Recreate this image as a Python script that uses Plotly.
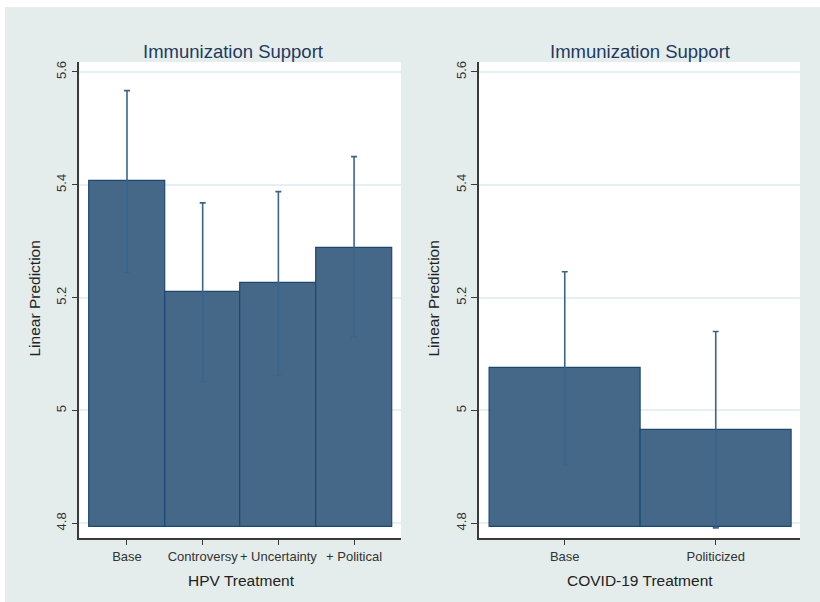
import plotly.graph_objects as go

# ---- data ----
hpv_categories = ["Base", "Controversy", "+ Uncertainty", "+ Political"]
hpv_means = [5.406, 5.210, 5.226, 5.288]
hpv_ci_hi = [5.567, 5.368, 5.388, 5.450]
hpv_ci_lo = [5.245, 5.051, 5.062, 5.130]

covid_categories = ["Base", "Politicized"]
covid_means = [5.075, 4.965]
covid_ci_hi = [5.246, 5.140]
covid_ci_lo = [4.904, 4.792]

y_tickvals = [4.8, 5.0, 5.2, 5.4, 5.6]
y_ticktext = ["4.8", "5", "5.2", "5.4", "5.6"]

bar_base = 4.794

W, H = 820, 602
FONT = "Liberation Sans, Arial, sans-serif"
BAR_FILL = "#466888"
BAR_LINE = "#1c4870"
ERR_COLOR = "#3a648a"
BG = "#e4edec"


def px(xs):
    return xs / W


def py(ys):
    return (H - ys) / H


fig = go.Figure()


def add_panel(cats, means, hi, lo, xa, ya):
    fig.add_trace(go.Bar(
        x=cats, y=[m - bar_base for m in means], base=bar_base, width=1.0,
        marker=dict(color=BAR_FILL, line=dict(color=BAR_LINE, width=1.2)),
        xaxis=xa, yaxis=ya, showlegend=False, hoverinfo="skip"))
    fig.add_trace(go.Scatter(
        x=cats, y=means, mode="markers",
        marker=dict(size=1, color="rgba(0,0,0,0)"),
        error_y=dict(type="data", symmetric=False,
                     array=[h - m for h, m in zip(hi, means)],
                     arrayminus=[m - l for m, l in zip(means, lo)],
                     color=ERR_COLOR, thickness=1.6, width=3),
        xaxis=xa, yaxis=ya, showlegend=False, hoverinfo="skip"))


add_panel(hpv_categories, hpv_means, hpv_ci_hi, hpv_ci_lo, "x", "y")
add_panel(covid_categories, covid_means, covid_ci_hi, covid_ci_lo, "x2", "y2")

ydom = [py(537.7), py(62)]
yrange = [4.7745, 5.6177]

common_x = dict(showline=True, linecolor="#3a3a3a", linewidth=1.5,
                ticks="outside", ticklen=6, tickcolor="#3a3a3a", tickwidth=1.2,
                showgrid=False, zeroline=False, mirror=False, tickangle=0,
                tickfont=dict(family=FONT, size=13, color="#333333"))
common_y = dict(showline=True, linecolor="#3a3a3a", linewidth=1.5,
                ticks="outside", ticklen=6, tickcolor="#3a3a3a", tickwidth=1.2,
                showgrid=True, gridcolor="#e6eff1", gridwidth=1.5,
                zeroline=False, mirror=False, range=yrange,
                tickvals=y_tickvals, ticktext=y_ticktext, tickangle=-90,
                tickfont=dict(family=FONT, size=13, color="#333333"))

fig.update_layout(
    width=W, height=H,
    margin=dict(l=0, r=0, t=0, b=0),
    paper_bgcolor=BG, plot_bgcolor="white",
    font=dict(family=FONT),
    bargap=0,
    xaxis=dict(domain=[px(79.3), px(401)], range=[-0.63, 3.62], anchor="y", **common_x),
    yaxis=dict(domain=ydom, anchor="x", **common_y),
    xaxis2=dict(domain=[px(478.7), px(800)], range=[-0.57, 1.558], anchor="y2", **common_x),
    yaxis2=dict(domain=ydom, anchor="x2", **common_y),
    shapes=[
        dict(type="rect", xref="paper", yref="paper", x0=0, x1=1,
             y0=py(7), y1=1, fillcolor="white", line=dict(width=0), layer="below"),
        dict(type="rect", xref="paper", yref="paper", x0=0, x1=px(5),
             y0=0, y1=1, fillcolor="white", line=dict(width=0), layer="below"),
    ],
)

title_font = dict(family=FONT, size=18.5, color="#1e3a5f")
axis_font = dict(family=FONT, size=15.5, color="#222222")
ann = []
for xc in (233, 640):
    ann.append(dict(text="Immunization Support", x=px(xc), y=py(51),
                    xref="paper", yref="paper", showarrow=False,
                    xanchor="center", yanchor="middle", font=title_font))
ann.append(dict(text="HPV Treatment", x=px(241), y=py(580), xref="paper", yref="paper",
                showarrow=False, xanchor="center", yanchor="middle", font=axis_font))
ann.append(dict(text="COVID-19 Treatment", x=px(640), y=py(580), xref="paper", yref="paper",
                showarrow=False, xanchor="center", yanchor="middle", font=axis_font))
for xc in (33.5, 432.5):
    ann.append(dict(text="Linear Prediction", x=px(xc), y=py(299), xref="paper", yref="paper",
                    showarrow=False, xanchor="center", yanchor="middle", textangle=-90,
                    font=axis_font))
fig.update_layout(annotations=ann)

fig.write_html(
    "out.html",
    config={"displayModeBar": False},
    post_script=("document.body.style.margin='0';"
                 "document.body.style.overflow='hidden';"
                 "document.body.style.background='" + BG + "';"
                 "document.documentElement.style.background='" + BG + "';"),
)
